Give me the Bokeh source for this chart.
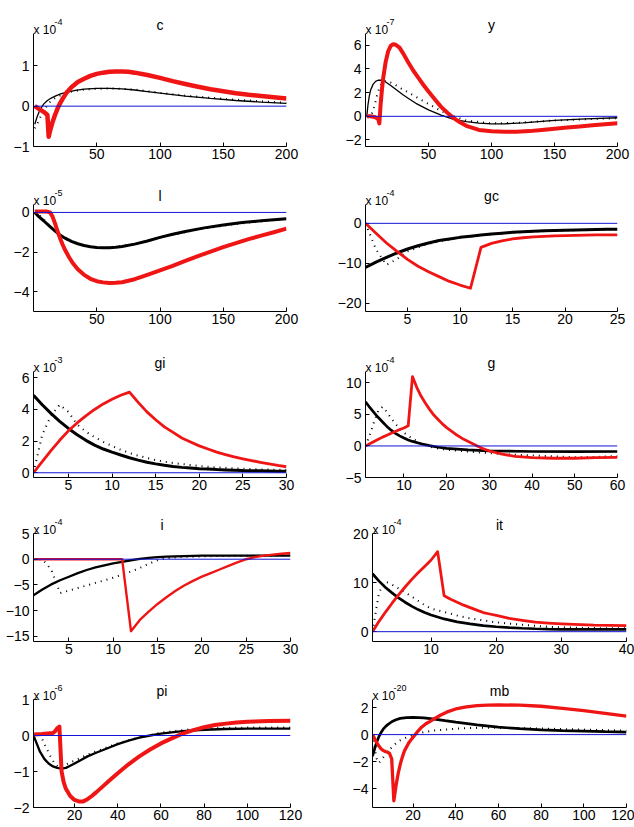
from bokeh.plotting import figure
from bokeh.layouts import column, row
from bokeh.models import Span, Label, FixedTicker, Range1d
from bokeh.embed import file_html
from bokeh.resources import INLINE

FONT = "Liberation Sans"

# ---------------- data (values in the units shown on each panel) ----------------
# c  (x 10^-4)
c_xb = [1, 3, 5, 8, 11, 14, 18, 22, 27, 33, 40, 50, 60, 70, 80, 90, 100, 120, 140, 160, 180, 200]
c_yb = [-0.45, -0.25, -0.1, 0.05, 0.14, 0.2, 0.26, 0.31, 0.35, 0.39, 0.42, 0.44, 0.44, 0.43, 0.4, 0.36, 0.32, 0.25, 0.19, 0.14, 0.1, 0.07]
c_xd = [1, 3, 5, 8, 10, 13, 16, 20, 25, 30, 40, 50, 60, 70, 80, 100, 120, 150, 200]
c_yd = [-0.55, -0.45, -0.3, -0.12, -0.02, 0.1, 0.18, 0.25, 0.31, 0.36, 0.41, 0.43, 0.44, 0.43, 0.41, 0.33, 0.26, 0.18, 0.08]
c_xr = [1, 4, 8, 11, 12, 13, 15, 17, 19, 21, 23, 26, 30, 35, 40, 45, 50, 55, 60, 65, 70, 75, 80, 90, 100, 110, 120, 130, 140, 150, 160, 170, 180, 190, 200]
c_yr = [0, -0.06, -0.14, -0.22, -0.76, -0.62, -0.4, -0.22, -0.06, 0.07, 0.18, 0.33, 0.47, 0.6, 0.68, 0.75, 0.8, 0.83, 0.85, 0.86, 0.86, 0.85, 0.83, 0.77, 0.7, 0.62, 0.55, 0.48, 0.42, 0.37, 0.32, 0.28, 0.25, 0.22, 0.19]

# y  (x 10^-7)
y_xb = [1, 2, 3, 4, 6, 8, 10, 13, 16, 20, 25, 30, 35, 40, 50, 60, 70, 80, 90, 100, 110, 125, 150, 175, 200]
y_yb = [0, 1.0, 1.7, 2.2, 2.7, 2.95, 3.05, 3.05, 2.9, 2.6, 2.2, 1.8, 1.45, 1.1, 0.55, 0.1, -0.25, -0.45, -0.58, -0.63, -0.63, -0.55, -0.35, -0.22, -0.12]
y_xd = [1, 3, 5, 7, 9, 11, 13, 15, 18, 22, 26, 30, 35, 40, 45, 50, 55, 60, 65, 70, 80, 100, 120, 150, 200]
y_yd = [0, 0.05, 0.2, 0.8, 1.7, 2.4, 2.85, 3.0, 2.95, 2.75, 2.5, 2.25, 1.95, 1.65, 1.35, 1.05, 0.75, 0.45, 0.2, 0.0, -0.35, -0.6, -0.55, -0.35, -0.15]
y_xr = [1, 4, 7, 10, 11, 12, 13, 14, 16, 18, 20, 22, 24, 27, 30, 34, 38, 42, 46, 50, 55, 60, 65, 70, 75, 80, 90, 100, 110, 120, 130, 140, 150, 160, 170, 180, 190, 200]
y_yr = [0, 0, -0.05, -0.2, -0.6, 1.0, 2.2, 3.2, 4.6, 5.5, 5.95, 6.1, 6.05, 5.8, 5.3, 4.55, 3.85, 3.25, 2.65, 2.1, 1.45, 0.8, 0.3, -0.15, -0.5, -0.8, -1.15, -1.27, -1.3, -1.3, -1.25, -1.15, -1.05, -0.95, -0.85, -0.75, -0.66, -0.58]

# l  (x 10^-5)
l_xb = [1, 4, 8, 12, 16, 20, 25, 30, 35, 40, 45, 50, 55, 60, 65, 70, 80, 90, 100, 110, 120, 135, 150, 165, 180, 200]
l_yb = [0, -0.2, -0.42, -0.65, -0.88, -1.1, -1.3, -1.46, -1.58, -1.67, -1.73, -1.77, -1.78, -1.78, -1.76, -1.72, -1.6, -1.44, -1.26, -1.1, -0.96, -0.78, -0.63, -0.51, -0.42, -0.32]
l_xd = [1, 4, 8, 12, 16, 20, 25, 30, 40, 50, 60, 80, 100, 130, 160, 200]
l_yd = [0, -0.1, -0.35, -0.62, -0.88, -1.1, -1.32, -1.48, -1.68, -1.78, -1.78, -1.6, -1.26, -0.86, -0.58, -0.32]
l_xr = [1, 5, 10, 13, 15, 17, 19, 21, 23, 25, 28, 31, 35, 40, 45, 50, 55, 60, 65, 70, 75, 80, 90, 100, 110, 120, 130, 140, 150, 160, 170, 180, 190, 200]
l_yr = [0.05, 0.05, 0.05, 0.0, -0.2, -0.55, -0.95, -1.3, -1.62, -1.9, -2.25, -2.55, -2.87, -3.15, -3.35, -3.47, -3.53, -3.56, -3.55, -3.52, -3.45, -3.37, -3.15, -2.93, -2.7, -2.45, -2.2, -1.98, -1.75, -1.55, -1.35, -1.17, -1.0, -0.82]

# gc  (x 10^-4)
gc_x = list(range(1, 26))
gc_yb = [-11.0, -9.7, -8.5, -7.4, -6.4, -5.6, -4.9, -4.3, -3.9, -3.5, -3.2, -2.9, -2.65, -2.45, -2.25, -2.1, -1.98, -1.88, -1.8, -1.72, -1.66, -1.6, -1.55, -1.5, -1.46]
gc_yd = [0, -6.5, -10.4, -8.9, -7.0, -6.0, -5.1, -4.5, -4.0, -3.6, -3.3, -3.0, -2.75, -2.55, -2.35, -2.2, -2.05, -1.95, -1.85, -1.77, -1.7, -1.64, -1.58, -1.53, -1.48]
gc_yr = [0, -2.5, -4.9, -7.0, -9.0, -10.7, -12.1, -13.3, -14.5, -15.4, -16.2, -6.0, -5.0, -4.4, -3.9, -3.6, -3.4, -3.25, -3.15, -3.05, -3.0, -2.95, -2.9, -2.9, -2.9]

# gi  (x 10^-3)
gi_x = list(range(1, 31))
gi_yb = [4.9, 4.3, 3.75, 3.25, 2.8, 2.4, 2.05, 1.75, 1.5, 1.3, 1.12, 0.95, 0.8, 0.66, 0.56, 0.47, 0.4, 0.34, 0.3, 0.26, 0.23, 0.2, 0.18, 0.16, 0.14, 0.13, 0.12, 0.11, 0.1, 0.1]
gi_yd = [0, 2.4, 3.6, 4.3, 3.85, 3.05, 2.6, 2.25, 1.95, 1.7, 1.45, 1.25, 1.08, 0.93, 0.8, 0.7, 0.62, 0.55, 0.49, 0.43, 0.38, 0.34, 0.31, 0.28, 0.25, 0.23, 0.21, 0.2, 0.19, 0.18]
gi_yr = [0, 0.7, 1.4, 2.05, 2.65, 3.15, 3.6, 4.0, 4.35, 4.65, 4.9, 5.1, 4.45, 3.85, 3.35, 2.9, 2.55, 2.2, 1.95, 1.7, 1.5, 1.3, 1.15, 1.0, 0.88, 0.77, 0.66, 0.56, 0.46, 0.38]

# g  (x 10^-4)
g_xb = [1, 2, 3, 4, 5, 6, 7, 8, 9, 10, 11, 12, 14, 16, 18, 20, 25, 30, 40, 50, 60]
g_yb = [7.0, 6.1, 5.3, 4.5, 3.8, 3.1, 2.5, 2.0, 1.6, 1.25, 0.95, 0.72, 0.35, 0.05, -0.2, -0.38, -0.62, -0.78, -0.88, -0.9, -0.88]
g_xd = [1, 2, 3, 4, 5, 6, 7, 8, 9, 10, 11, 12, 14, 16, 18, 20, 25, 30, 35, 40, 45, 50, 55, 60]
g_yd = [0, 1.7, 3.8, 5.6, 6.2, 5.4, 4.4, 3.5, 2.7, 2.1, 1.6, 1.15, 0.4, -0.1, -0.4, -0.6, -0.9, -1.15, -1.35, -1.5, -1.65, -1.8, -1.75, -1.6]
g_xr = [1, 2, 3, 4, 5, 6, 7, 8, 9, 10, 11, 12, 13, 14, 15, 16, 17, 18, 19, 20, 22, 24, 26, 28, 30, 33, 36, 40, 45, 50, 55, 60]
g_yr = [0, 0.35, 0.7, 1.05, 1.4, 1.7, 2.0, 2.3, 2.6, 2.85, 3.2, 11.0, 9.3, 7.9, 6.8, 5.8, 4.9, 4.2, 3.5, 2.9, 1.9, 1.05, 0.4, -0.3, -0.8, -1.3, -1.65, -1.85, -1.95, -1.95, -1.85, -1.8]

# i  (x 10^-4)
i_x = list(range(1, 31))
i_yb = [-7.0, -5.9, -4.9, -4.1, -3.4, -2.7, -2.1, -1.6, -1.2, -0.8, -0.5, -0.2, 0.05, 0.25, 0.4, 0.5, 0.57, 0.62, 0.66, 0.68, 0.7, 0.7, 0.7, 0.7, 0.7, 0.7, 0.7, 0.7, 0.7, 0.7]
i_yd = [0, 0, -2.0, -6.6, -6.1, -5.6, -5.1, -4.6, -4.1, -3.6, -3.0, -2.4, -1.7, -0.9, -0.2, 0.2, 0.35, 0.45, 0.5, 0.55, 0.6, 0.62, 0.64, 0.66, 0.68, 0.7, 0.7, 0.72, 0.74, 0.75]
i_yr = [0, 0, 0, 0, 0, 0, 0, 0, 0, 0, 0, -14.0, -11.8, -10.2, -8.7, -7.4, -6.2, -5.1, -4.2, -3.4, -2.7, -2.0, -1.3, -0.6, 0.0, 0.4, 0.7, 0.9, 1.05, 1.2]

# it  (x 10^-4)
it_xb = [1, 2, 3, 4, 5, 6, 7, 8, 9, 10, 11, 12, 13, 14, 16, 18, 20, 22, 24, 26, 28, 30, 32, 35, 40]
it_yb = [11.8, 10.3, 9.0, 7.9, 6.9, 6.0, 5.2, 4.5, 3.9, 3.4, 3.0, 2.6, 2.3, 2.0, 1.6, 1.25, 1.0, 0.82, 0.7, 0.6, 0.52, 0.48, 0.46, 0.45, 0.45]
it_xd = [1, 2, 3, 4, 5, 6, 7, 8, 9, 10, 12, 14, 16, 18, 20, 24, 28, 32, 36, 40]
it_yd = [0, 8.0, 10.2, 9.6, 8.8, 8.0, 7.2, 6.3, 5.4, 4.7, 4.0, 3.3, 2.7, 2.3, 1.9, 1.4, 1.0, 0.8, 0.72, 0.7]
it_xr = [1, 2, 3, 4, 5, 6, 7, 8, 9, 10, 11, 12, 13, 14, 15, 16, 17, 18, 19, 20, 22, 24, 26, 28, 30, 35, 40]
it_yr = [0, 2.1, 4.0, 5.8, 7.5, 9.1, 10.6, 12.0, 13.3, 14.6, 16.3, 7.3, 6.6, 6.0, 5.4, 4.9, 4.4, 3.9, 3.6, 3.3, 2.7, 2.3, 1.95, 1.75, 1.6, 1.35, 1.25]

# pi  (x 10^-6)
pi_xb = [1, 2, 4, 6, 8, 10, 12, 14, 16, 18, 20, 23, 26, 30, 35, 40, 45, 50, 55, 60, 70, 80, 90, 100, 110, 120]
pi_yb = [0, -0.15, -0.45, -0.65, -0.78, -0.86, -0.9, -0.92, -0.9, -0.84, -0.78, -0.68, -0.58, -0.48, -0.36, -0.24, -0.14, -0.06, 0.0, 0.05, 0.12, 0.16, 0.18, 0.19, 0.19, 0.19]
pi_xd = [1, 3, 5, 7, 9, 11, 13, 15, 17, 20, 25, 30, 35, 40, 50, 60, 70, 80, 100, 120]
pi_yd = [0, 0.05, -0.1, -0.35, -0.6, -0.8, -0.9, -0.85, -0.78, -0.7, -0.56, -0.44, -0.33, -0.22, -0.05, 0.08, 0.15, 0.2, 0.22, 0.22]
pi_xr = [1, 5, 10, 11, 12, 13, 14, 15, 16, 18, 20, 22, 24, 26, 28, 30, 33, 36, 40, 45, 50, 55, 60, 65, 70, 75, 80, 85, 90, 95, 100, 110, 120]
pi_yr = [0.03, 0.04, 0.07, 0.12, 0.2, 0.25, -1.0, -1.3, -1.48, -1.68, -1.79, -1.83, -1.83, -1.77, -1.68, -1.58, -1.42, -1.26, -1.05, -0.8, -0.58, -0.39, -0.22, -0.08, 0.05, 0.15, 0.23, 0.29, 0.33, 0.36, 0.38, 0.4, 0.41]

# mb  (x 10^-20)
mb_xb = [1, 2, 3, 4, 5, 6, 7, 8, 10, 12, 14, 17, 20, 25, 30, 35, 40, 50, 60, 70, 80, 90, 100, 110, 120]
mb_yb = [-1.6, -1.05, -0.55, -0.15, 0.15, 0.4, 0.58, 0.72, 0.95, 1.1, 1.2, 1.26, 1.28, 1.24, 1.15, 1.03, 0.92, 0.72, 0.55, 0.44, 0.35, 0.3, 0.26, 0.22, 0.19]
mb_xd = [1, 2, 3, 4, 5, 6, 8, 10, 12, 14, 17, 20, 25, 30, 40, 50, 60, 80, 100, 120]
mb_yd = [0, -1.0, -1.8, -2.1, -1.9, -1.7, -1.3, -0.95, -0.65, -0.42, -0.2, -0.02, 0.18, 0.3, 0.44, 0.5, 0.5, 0.45, 0.37, 0.3]
mb_xr = [1, 2, 3, 4, 5, 6, 7, 8, 9, 10, 11, 12, 13, 14, 15, 16, 18, 20, 22, 24, 26, 28, 30, 33, 36, 40, 45, 50, 55, 60, 70, 80, 90, 100, 110, 120]
mb_yr = [0, -0.3, -0.6, -0.85, -1.05, -1.18, -1.25, -1.3, -1.4, -1.8, -4.9, -3.8, -2.9, -2.2, -1.65, -1.2, -0.6, -0.2, 0.2, 0.55, 0.8, 0.98, 1.18, 1.45, 1.68, 1.9, 2.05, 2.15, 2.18, 2.2, 2.18, 2.1, 1.95, 1.78, 1.58, 1.36]

# tick values
c_xt = [50, 100, 150, 200]; c_yt = [-1, 0, 1]
y_xt = [50, 100, 150, 200]; y_yt = [-2, 0, 2, 4, 6]
l_xt = [50, 100, 150, 200]; l_yt = [-4, -2, 0]
gc_xt = [5, 10, 15, 20, 25]; gc_yt = [-20, -10, 0]
gi_xt = [5, 10, 15, 20, 25, 30]; gi_yt = [0, 2, 4, 6]
g_xt = [10, 20, 30, 40, 50, 60]; g_yt = [-5, 0, 5, 10]
i_xt = [5, 10, 15, 20, 25, 30]; i_yt = [-15, -10, -5, 0, 5]
it_xt = [10, 20, 30, 40]; it_yt = [0, 10, 20]
pi_xt = [20, 40, 60, 80, 100, 120]; pi_yt = [-2, -1, 0, 1]
mb_xt = [20, 40, 60, 80, 100, 120]; mb_yt = [-4, -2, 0, 2]

titles = ["c", "y", "l", "gc", "gi", "g", "i", "it", "pi", "mb"]
exponents = ["-4", "-7", "-5", "-4", "-3", "-4", "-4", "-4", "-6", "-20"]

TOP_PAD = 2  # real frame top border; the axis itself stops lower (axis bounds)


def make_panel(title, expo, xr, yr, xt, yt, blk, dot, red, w, h, bl, br, bt, bb, lw_b, lw_r):
    # extend the y range upward so the title / multiplier sit inside the frame,
    # while the y axis line is bounded to the real data limits
    axis_px = h - bt - bb
    frame_px = h - TOP_PAD - bb
    y_end = yr[0] + (yr[1] - yr[0]) * frame_px / axis_px
    p = figure(width=w, height=h, x_range=Range1d(*xr), y_range=Range1d(yr[0], y_end),
               output_backend="svg", toolbar_location=None,
               min_border_left=bl, min_border_right=br, min_border_top=TOP_PAD,
               min_border_bottom=bb)
    p.outline_line_color = None
    p.grid.visible = False
    p.background_fill_color = "white"
    p.border_fill_color = "white"
    for ax in (p.xaxis[0], p.yaxis[0]):
        ax.major_tick_in = 4
        ax.major_tick_out = 0
        ax.minor_tick_line_color = None
        ax.axis_line_color = "black"
        ax.major_tick_line_color = "black"
        ax.major_label_text_font = FONT
        ax.major_label_text_font_size = "14px"
        ax.major_label_text_color = "black"
    p.yaxis[0].bounds = (yr[0], yr[1])
    p.xaxis[0].ticker = FixedTicker(ticks=xt)
    p.yaxis[0].ticker = FixedTicker(ticks=yt)
    p.xaxis[0].major_label_standoff = 2
    p.yaxis[0].major_label_standoff = 4

    p.line(blk[0], blk[1], line_color="black", line_width=lw_b)
    p.line(dot[0], dot[1], line_color="black", line_width=2, line_dash="1 5")
    p.line(red[0], red[1], line_color="#f01515", line_width=lw_r, line_join="round")
    p.add_layout(Span(location=0, dimension="width", line_color="#1414d8", line_width=1))

    p.add_layout(Label(x=xr[0], y=yr[1], text="x 10", x_offset=0, y_offset=4,
                       text_font=FONT, text_font_size="12px", text_color="black",
                       text_baseline="alphabetic", text_align="left"))
    p.add_layout(Label(x=xr[0], y=yr[1], text=expo, x_offset=21, y_offset=12,
                       text_font=FONT, text_font_size="9px", text_color="black",
                       text_baseline="alphabetic", text_align="left"))
    p.add_layout(Label(x=(xr[0] + xr[1]) / 2, y=yr[1], text=title, y_offset=9,
                       text_font=FONT, text_font_size="14px", text_color="black",
                       text_baseline="alphabetic", text_align="center"))
    return p


WL, WR = 318, 316
H = [166, 164, 165, 165, 167]
TB = [(33, 20), (38, 19), (41, 18), (38, 19), (39, 20)]

specs = [
    # title, xrange, yrange, xt, yt, black, dotted, red, lw_black, lw_red
    ("c", (0, 200), (-1, 1.8), c_xt, c_yt, (c_xb, c_yb), (c_xd, c_yd), (c_xr, c_yr), 1.3, 4.5),
    ("y", (0, 200), (-2.55, 7), y_xt, y_yt, (y_xb, y_yb), (y_xd, y_yd), (y_xr, y_yr), 1.3, 4),
    ("l", (0, 200), (-5, 0.4), l_xt, l_yt, (l_xb, l_yb), (l_xd, l_yd), (l_xr, l_yr), 3, 4),
    ("gc", (1, 25), (-22, 4.7), gc_xt, gc_yt, (gc_x, gc_yb), (gc_x, gc_yd), (gc_x, gc_yr), 3, 2.8),
    ("gi", (1, 30), (-0.3, 6.4), gi_xt, gi_yt, (gi_x, gi_yb), (gi_x, gi_yd), (gi_x, gi_yr), 3, 2.8),
    ("g", (1, 60), (-5, 11.8), g_xt, g_yt, (g_xb, g_yb), (g_xd, g_yd), (g_xr, g_yr), 2.7, 2.8),
    ("i", (1, 30), (-16, 5), i_xt, i_yt, (i_x, i_yb), (i_x, i_yd), (i_x, i_yr), 2.3, 2.4),
    ("it", (1, 40), (-2, 20), it_xt, it_yt, (it_xb, it_yb), (it_xd, it_yd), (it_xr, it_yr), 2.7, 2.8),
    ("pi", (1, 120), (-2, 1), pi_xt, pi_yt, (pi_xb, pi_yb), (pi_xd, pi_yd), (pi_xr, pi_yr), 2.3, 4),
    ("mb", (1, 120), (-5.4, 2.6), mb_xt, mb_yt, (mb_xb, mb_yb), (mb_xd, mb_yd), (mb_xr, mb_yr), 2.7, 3.3),
]

# horizontal borders (left, right) per panel
HB = [(33, 32), (47, 17), (33, 32), (47, 17), (33, 32), (47, 17),
      (33, 28), (54, 8), (33, 28), (54, 8)]

rows = []
for r in range(5):
    figs = []
    for cidx in range(2):
        k = 2 * r + cidx
        t, xr, yr, xt, yt, blk, dot, red, lwb, lwr = specs[k]
        w = WL if cidx == 0 else WR
        bl, br = HB[k]
        bt, bb = TB[r]
        figs.append(make_panel(t, exponents[k], xr, yr, xt, yt, blk, dot, red,
                               w, H[r], bl, br, bt, bb, lwb, lwr))
    rows.append(row(*figs, spacing=0))

layout = column(*rows, spacing=0)

open("out.html", "w").write(file_html(layout, INLINE))
